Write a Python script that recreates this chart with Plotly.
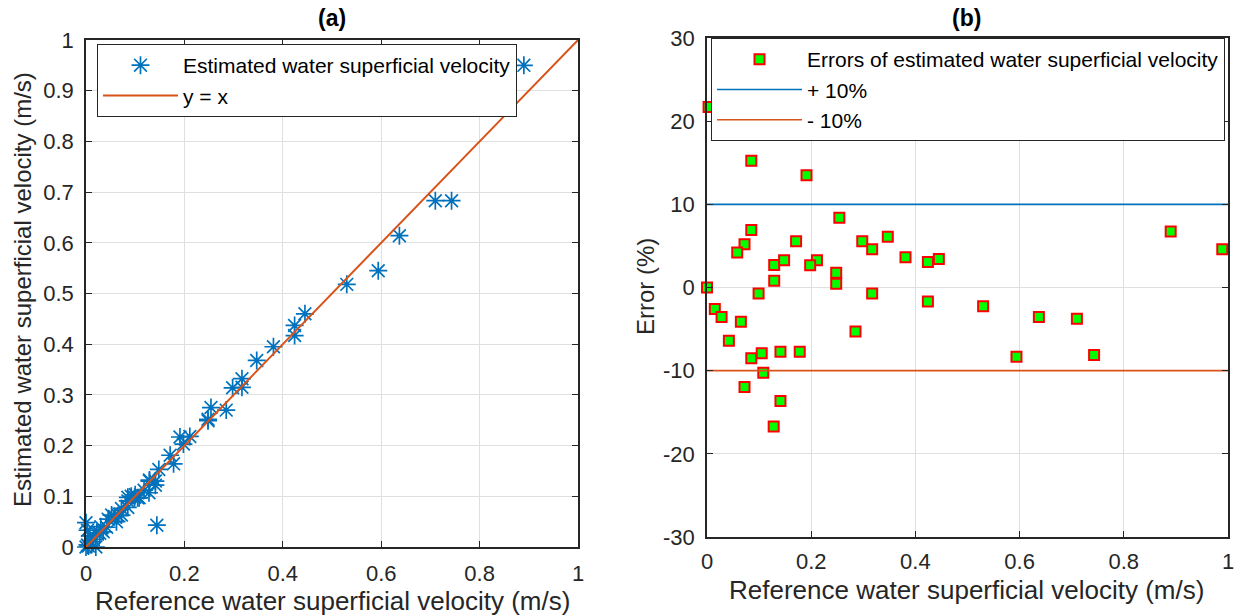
import plotly.graph_objects as go

# ---------------- data ----------------
# Panel (a): reference vs estimated water superficial velocity (m/s)
ref_a = [0.003, 0.085, 0.191, 0.254, 0.085, 0.072, 0.058, 0.171, 0.298, 0.317,
         0.347, 0.381, 0.424, 0.445, 0.129, 0.148, 0.211, 0.198, 0.248, 0.248,
         0.129, 0.000, 0.099, 0.317, 0.424, 0.015, 0.028, 0.065, 0.285, 0.042,
         0.085, 0.105, 0.141, 0.178, 0.108, 0.072, 0.141, 0.128, 0.530, 0.637,
         0.710, 0.594, 0.743, 0.890,
         0.000, 0.003, 0.008, 0.012, 0.005, 0.020, 0.030, 0.045, 0.052, 0.062,
         0.092, 0.100, 0.118, 0.144, 0.035, 0.022]
est_a = [0.004, 0.098, 0.217, 0.275, 0.091, 0.076, 0.060, 0.181, 0.314, 0.332,
         0.368, 0.395, 0.437, 0.460, 0.132, 0.153, 0.218, 0.203, 0.252, 0.249,
         0.130, 0.000, 0.098, 0.315, 0.417, 0.015, 0.027, 0.062, 0.270, 0.039,
         0.078, 0.097, 0.130, 0.164, 0.097, 0.063, 0.122, 0.107, 0.518, 0.614,
         0.683, 0.545, 0.683, 0.950,
         0.048, 0.033, 0.022, 0.010, 0.002, 0.000, 0.040, 0.055, 0.063, 0.050,
         0.100, 0.103, 0.112, 0.043, 0.030, 0.028]
identity_x = [0, 1]
identity_y = [0, 1]

# Panel (b): error (%) of estimated velocity vs reference velocity
ref_b = [0.003, 0.085, 0.191, 0.254, 0.085, 0.072, 0.058, 0.171, 0.298, 0.317,
         0.347, 0.381, 0.424, 0.445, 0.129, 0.148, 0.211, 0.198, 0.248, 0.248,
         0.129, 0.000, 0.099, 0.317, 0.424, 0.015, 0.028, 0.065, 0.285, 0.042,
         0.085, 0.105, 0.141, 0.178, 0.108, 0.072, 0.141, 0.128, 0.530, 0.637,
         0.710, 0.594, 0.743, 0.890, 0.989]
err_b = [21.7, 15.25, 13.5, 8.4, 6.9, 5.2, 4.2, 5.56, 5.56, 4.6,
         6.1, 3.64, 3.08, 3.44, 2.72, 3.28, 3.28, 2.68, 1.76, 0.44,
         0.8, 0.0, -0.72, -0.72, -1.68, -2.6, -3.56, -4.12, -5.28, -6.4,
         -8.52, -7.92, -7.72, -7.72, -10.24, -11.96, -13.64, -16.7, -2.24, -3.56,
         -3.76, -8.32, -8.12, 6.72, 4.6]
band_x = [0, 1]
upper_band = [10, 10]
lower_band = [-10, -10]

vel_ticks = [0, 0.2, 0.4, 0.6, 0.8, 1]
vel_tick_text = ["0", "0.2", "0.4", "0.6", "0.8", "1"]
est_ticks = [0, 0.1, 0.2, 0.3, 0.4, 0.5, 0.6, 0.7, 0.8, 0.9, 1]
est_tick_text = ["0", "0.1", "0.2", "0.3", "0.4", "0.5", "0.6", "0.7", "0.8", "0.9", "1"]
err_ticks = [-30, -20, -10, 0, 10, 20, 30]
err_tick_text = ["-30", "-20", "-10", "0", "10", "20", "30"]

# ---------------- style ----------------
FONT = "Liberation Sans, Arial, Helvetica, sans-serif"
TXT = "#262626"
BLUE = "#0072BD"
ORANGE = "#D95319"
GRID = "#dfdfdf"
W, H = 1240, 615

fig = go.Figure()

fig.add_trace(go.Scatter(
    x=ref_a, y=est_a, mode="markers", name="Estimated water superficial velocity",
    marker=dict(symbol="asterisk-open", size=15, color=BLUE, line=dict(color=BLUE, width=1.7)),
    xaxis="x", yaxis="y", legend="legend", cliponaxis=False))
fig.add_trace(go.Scatter(
    x=identity_x, y=identity_y, mode="lines", name="y = x",
    line=dict(color=ORANGE, width=2), xaxis="x", yaxis="y", legend="legend"))

fig.add_trace(go.Scatter(
    x=ref_b, y=err_b, mode="markers", name="Errors of estimated water superficial velocity",
    marker=dict(symbol="square", size=10, color="#00FF00", line=dict(color="#FF0000", width=2)),
    xaxis="x2", yaxis="y2", legend="legend2", cliponaxis=False))
fig.add_trace(go.Scatter(
    x=band_x, y=upper_band, mode="lines", name="+ 10%",
    line=dict(color=BLUE, width=1.6), xaxis="x2", yaxis="y2", legend="legend2"))
fig.add_trace(go.Scatter(
    x=band_x, y=lower_band, mode="lines", name="- 10%",
    line=dict(color=ORANGE, width=1.6), xaxis="x2", yaxis="y2", legend="legend2"))


def ax(domain, rng, tv, tt, anchor, standoff):
    return dict(domain=domain, range=rng, tickvals=tv, ticktext=tt, anchor=anchor,
                automargin=False,
                showgrid=True, gridcolor=GRID, gridwidth=1, zeroline=False,
                showline=True, linecolor=TXT, linewidth=1.5, mirror="ticks",
                ticks="inside", ticklen=6, tickwidth=1, tickcolor=TXT,
                ticklabelstandoff=standoff,
                tickfont=dict(family=FONT, size=22, color=TXT))


fig.update_layout(
    width=W, height=H, margin=dict(l=0, r=0, t=0, b=0, pad=0, autoexpand=False),
    paper_bgcolor="white", plot_bgcolor="white",
    font=dict(family=FONT, color=TXT),
    xaxis=ax([86 / W, 578 / W], [0, 1], vel_ticks, vel_tick_text, "y", 6),
    yaxis=ax([1 - 547 / H, 1 - 40 / H], [0, 1], est_ticks, est_tick_text, "x", 6),
    xaxis2=ax([707 / W, 1228 / W], [0, 1], vel_ticks, vel_tick_text, "y2", 4),
    yaxis2=ax([1 - 537 / H, 1 - 38 / H], [-30, 30], err_ticks, err_tick_text, "x2", 6),
    legend=dict(x=97 / W, y=1 - 44 / H, xanchor="left", yanchor="top",
                bgcolor="white", bordercolor=TXT, borderwidth=1,
                font=dict(family=FONT, size=21, color="#000000"), itemwidth=75),
    legend2=dict(x=711 / W, y=1 - 38 / H, xanchor="left", yanchor="top",
                 bgcolor="white", bordercolor=TXT, borderwidth=1,
                 font=dict(family=FONT, size=21, color="#000000"), itemwidth=85),
    showlegend=True,
)

ann = [
    dict(text="<b>(a)</b>", x=332 / W, y=1 - 18 / H, font=dict(size=23, color="#000000")),
    dict(text="<b>(b)</b>", x=967 / W, y=1 - 18 / H, font=dict(size=23, color="#000000")),
    dict(text="Reference water superficial velocity (m/s)", x=332 / W, y=1 - 601 / H,
         font=dict(size=26, color=TXT)),
    dict(text="Reference water superficial velocity (m/s)", x=967 / W, y=1 - 590 / H,
         font=dict(size=26, color=TXT)),
    dict(text="Estimated water superficial velocity (m/s)", x=22 / W, y=1 - 290 / H,
         textangle=-90, font=dict(size=24, color=TXT)),
    dict(text="Error (%)", x=645 / W, y=1 - 287 / H, textangle=-90,
         font=dict(size=24, color=TXT)),
]
for a in ann:
    a.update(xref="paper", yref="paper", showarrow=False, xanchor="center", yanchor="middle")
    a["font"]["family"] = FONT
fig.update_layout(annotations=ann)

fig.write_html("out.html")
